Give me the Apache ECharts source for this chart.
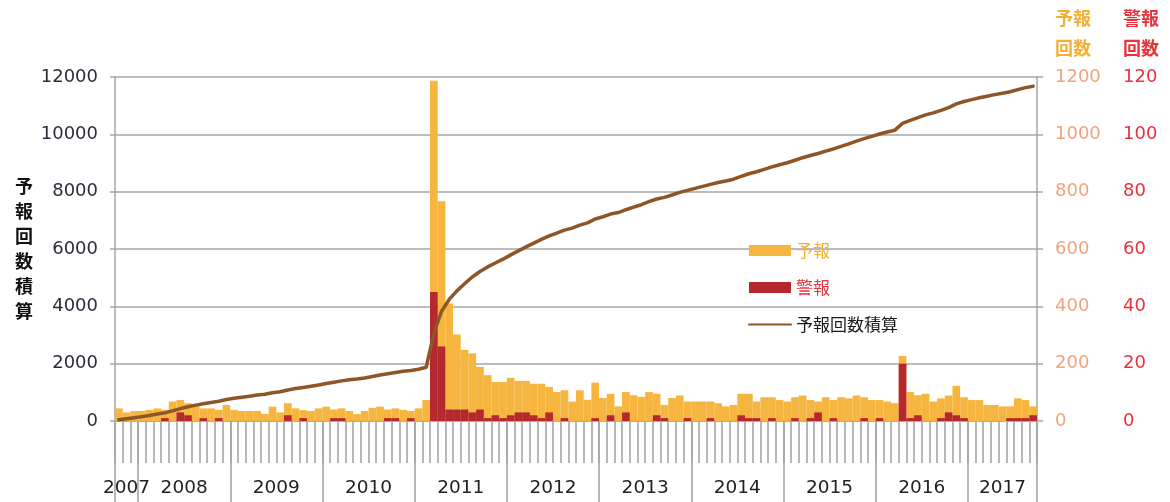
<!DOCTYPE html>
<html>
<head>
<meta charset="utf-8">
<script src="https://cdn.jsdelivr.net/npm/echarts@6/dist/echarts.min.js"></script>
<style>
  html, body { margin: 0; padding: 0; background: #ffffff; }
  #chart { width: 1170px; height: 502px; }
</style>
</head>
<body>
<div id="chart"></div>
<script>
// Monthly categories: October 2007 through September 2017
const firstYear = 2007;
const firstMonth = 10;
const monthCount = 120;
const months = [];
for (let i = 0; i < monthCount; i++) {
  const m = firstMonth - 1 + i;
  months.push((firstYear + Math.floor(m / 12)) + '-' + String(m % 12 + 1).padStart(2, '0'));
}

const yearLabels = ['2007', '2008', '2009', '2010', '2011', '2012', '2013', '2014', '2015', '2016', '2017'];

// 予報 issued per month (right axis, 0-1200)
const yohoCounts = [
  44, 30, 35,
  35, 39, 44, 39, 68, 73, 62, 54, 44, 44, 39, 56,
  39, 35, 35, 35, 25, 50, 30, 62, 44, 38, 35, 44,
  50, 40, 44, 35, 24, 35, 46, 50, 40, 44, 39, 35,
  44, 73, 1187, 767, 410, 302, 248, 236, 189, 160, 136, 136,
  151, 140, 140, 130, 130, 119, 101, 107, 68, 107, 74, 134,
  80, 95, 51, 101, 90, 84, 101, 95, 56, 80, 89, 68,
  68, 68, 68, 62, 51, 56, 95, 95, 68, 83, 83, 73,
  68, 83, 89, 73, 68, 83, 73, 83, 79, 89, 83, 73,
  73, 68, 62, 227, 101, 90, 95, 68, 79, 89, 123, 83,
  73, 73, 56, 56, 51, 51, 79, 73, 51
];

// 警報 issued per month (second right axis, 0-120)
const keihoCounts = [
  0, 0, 0,
  0, 0, 0, 1, 0, 3, 2, 0, 1, 0, 1, 0,
  0, 0, 0, 0, 0, 0, 0, 2, 0, 1, 0, 0,
  0, 1, 1, 0, 0, 0, 0, 0, 1, 1, 0, 1,
  0, 0, 45, 26, 4, 4, 4, 3, 4, 1, 2, 1,
  2, 3, 3, 2, 1, 3, 0, 1, 0, 0, 0, 1,
  0, 2, 0, 3, 0, 0, 0, 2, 1, 0, 0, 1,
  0, 0, 1, 0, 0, 0, 2, 1, 1, 0, 1, 0,
  0, 1, 0, 1, 3, 0, 1, 0, 0, 0, 1, 0,
  1, 0, 0, 20, 1, 2, 0, 0, 1, 3, 2, 1,
  0, 0, 0, 0, 0, 1, 1, 1, 2
];

// Running total of 予報 (left axis, 0-12000)
const yohoCumulative = [
  45, 78, 115,
  153, 195, 242, 284, 355, 432, 497, 554, 601, 648, 690, 749,
  791, 829, 867, 905, 933, 986, 1019, 1084, 1131, 1172, 1210, 1257,
  1310, 1353, 1400, 1438, 1465, 1503, 1552, 1605, 1648, 1695, 1737, 1765,
  1805, 1875, 3060, 3830, 4240, 4540, 4790, 5025, 5215, 5375, 5510, 5645,
  5795, 5935, 6075, 6205, 6335, 6455, 6555, 6660, 6730, 6835, 6910, 7045,
  7125, 7220, 7270, 7370, 7460, 7545, 7650, 7745, 7800, 7885, 7975, 8045,
  8115, 8185, 8255, 8320, 8375, 8435, 8530, 8625, 8695, 8780, 8865, 8940,
  9010, 9095, 9185, 9260, 9330, 9415, 9490, 9580, 9665, 9760, 9850, 9930,
  10010, 10080, 10145, 10380, 10485, 10580, 10680, 10750, 10835, 10930, 11060, 11145,
  11210, 11275, 11330, 11385, 11435, 11485, 11560, 11630, 11680
];

const GRID_GRAY = '#A6A6A6';
const FONT_NUM = 'DejaVu Sans, sans-serif';
const FONT_JP = '"Noto Sans CJK JP", sans-serif';
const plainNumber = function (v) { return String(v); };

// Year label placement: centred over each calendar year's months
const yearLabelAt = {};
yearLabels.forEach(function (y) {
  const first = Math.max(0, (Number(y) - firstYear) * 12 - (firstMonth - 1));
  const last = Math.min(monthCount - 1, first + 11 - (first === 0 ? (firstMonth - 1) : 0));
  const mid = (first + last) / 2;
  yearLabelAt[Math.floor(mid)] = { text: y, shift: mid % 1 !== 0 };
});

const chart = echarts.init(document.getElementById('chart'), null, { renderer: 'canvas' });

chart.setOption({
  animation: false,
  backgroundColor: '#ffffff',
  grid: { left: 115, right: 133, top: 77, bottom: 81, containLabel: false },
  legend: {
    orient: 'vertical',
    left: 743,
    top: 237,
    itemWidth: 42,
    itemHeight: 11,
    itemGap: 20,
    textStyle: { fontFamily: FONT_JP, fontSize: 17 },
    data: [
      { name: '予報', icon: 'rect', textStyle: { color: '#F5AE30' } },
      { name: '警報', icon: 'rect', textStyle: { color: '#E8343C' } },
      { name: '予報回数積算', itemStyle: { opacity: 0 }, textStyle: { color: '#1a1a1a' } }
    ]
  },
  xAxis: [
    {
      type: 'category',
      data: months,
      boundaryGap: true,
      axisLine: { show: true, lineStyle: { color: GRID_GRAY, width: 1.5 } },
      axisTick: { show: true, interval: 0, length: 42, lineStyle: { color: GRID_GRAY, width: 1.6 } },
      axisLabel: { show: false },
      splitLine: { show: false }
    },
    {
      type: 'category',
      data: months,
      position: 'bottom',
      boundaryGap: true,
      axisLine: { show: false },
      axisTick: {
        show: true,
        length: 81,
        interval: function (index, value) { return index === 0 || /-01$/.test(value); },
        lineStyle: { color: GRID_GRAY, width: 1.6 }
      },
      axisLabel: {
        show: true,
        margin: 58,
        interval: function (index) { return yearLabelAt[index] !== undefined; },
        formatter: function (value, index) {
          const item = yearLabelAt[index];
          if (!item) return '';
          return item.shift ? '{s|' + item.text + '}' : '{n|' + item.text + '}';
        },
        rich: {
          n: { fontFamily: FONT_NUM, fontSize: 18.5, color: '#222222' },
          s: { fontFamily: FONT_NUM, fontSize: 18.5, color: '#222222', padding: [0, 0, 0, 7.68] }
        }
      },
      splitLine: { show: false }
    }
  ],
  yAxis: [
    {
      type: 'value',
      position: 'left',
      min: 0,
      max: 12000,
      interval: 2000,
      name: '予\n報\n回\n数\n積\n算',
      nameLocation: 'middle',
      nameRotate: 0,
      nameGap: 82,
      nameTextStyle: { fontFamily: FONT_JP, fontSize: 18, fontWeight: 'bold', color: '#111111', lineHeight: 25 },
      axisLine: { show: true, lineStyle: { color: GRID_GRAY, width: 1.5 } },
      axisTick: { show: true, length: 5, lineStyle: { color: GRID_GRAY, width: 1.5 } },
      axisLabel: { fontFamily: FONT_NUM, fontSize: 18, color: '#2b2d3a', margin: 17, formatter: plainNumber },
      splitLine: { show: true, lineStyle: { color: GRID_GRAY, width: 1.5 } }
    },
    {
      type: 'value',
      position: 'right',
      min: 0,
      max: 1200,
      interval: 200,
      name: '予報\n回数',
      nameLocation: 'end',
      nameGap: 14,
      nameTextStyle: {
        fontFamily: FONT_JP, fontSize: 18, fontWeight: 'bold', color: '#F5B031',
        align: 'left', verticalAlign: 'bottom', lineHeight: 30, padding: [0, 0, 0, 18]
      },
      axisLine: { show: true, lineStyle: { color: GRID_GRAY, width: 1.5 } },
      axisTick: { show: true, length: 6, lineStyle: { color: GRID_GRAY, width: 1.5 } },
      axisLabel: { fontFamily: FONT_NUM, fontSize: 18, color: '#F2A27C', margin: 18, formatter: plainNumber },
      splitLine: { show: false }
    },
    {
      type: 'value',
      position: 'right',
      offset: 68,
      min: 0,
      max: 120,
      interval: 20,
      name: '警報\n回数',
      nameLocation: 'end',
      nameGap: 14,
      nameTextStyle: {
        fontFamily: FONT_JP, fontSize: 18, fontWeight: 'bold', color: '#E8323C',
        align: 'left', verticalAlign: 'bottom', lineHeight: 30, padding: [0, 0, 0, 18]
      },
      axisLine: { show: false },
      axisTick: { show: false },
      axisLabel: { fontFamily: FONT_NUM, fontSize: 18, color: '#E8323C', margin: 18, formatter: plainNumber },
      splitLine: { show: false }
    }
  ],
  series: [
    {
      name: '予報',
      type: 'bar',
      xAxisIndex: 0,
      yAxisIndex: 1,
      data: yohoCounts,
      barCategoryGap: 0,
      barGap: '-100%',
      itemStyle: { color: '#F5B53F' },
      z: 2
    },
    {
      name: '警報',
      type: 'bar',
      xAxisIndex: 0,
      yAxisIndex: 2,
      data: keihoCounts,
      barCategoryGap: 0,
      barGap: '-100%',
      itemStyle: { color: '#B5282E' },
      z: 3
    },
    {
      name: '予報回数積算',
      type: 'line',
      xAxisIndex: 0,
      yAxisIndex: 0,
      data: yohoCumulative,
      symbol: 'none',
      lineStyle: { color: '#8E5526', width: 3.5, cap: 'round', join: 'round' },
      itemStyle: { color: '#8E5526' },
      z: 5
    }
  ]
});
</script>
</body>
</html>
